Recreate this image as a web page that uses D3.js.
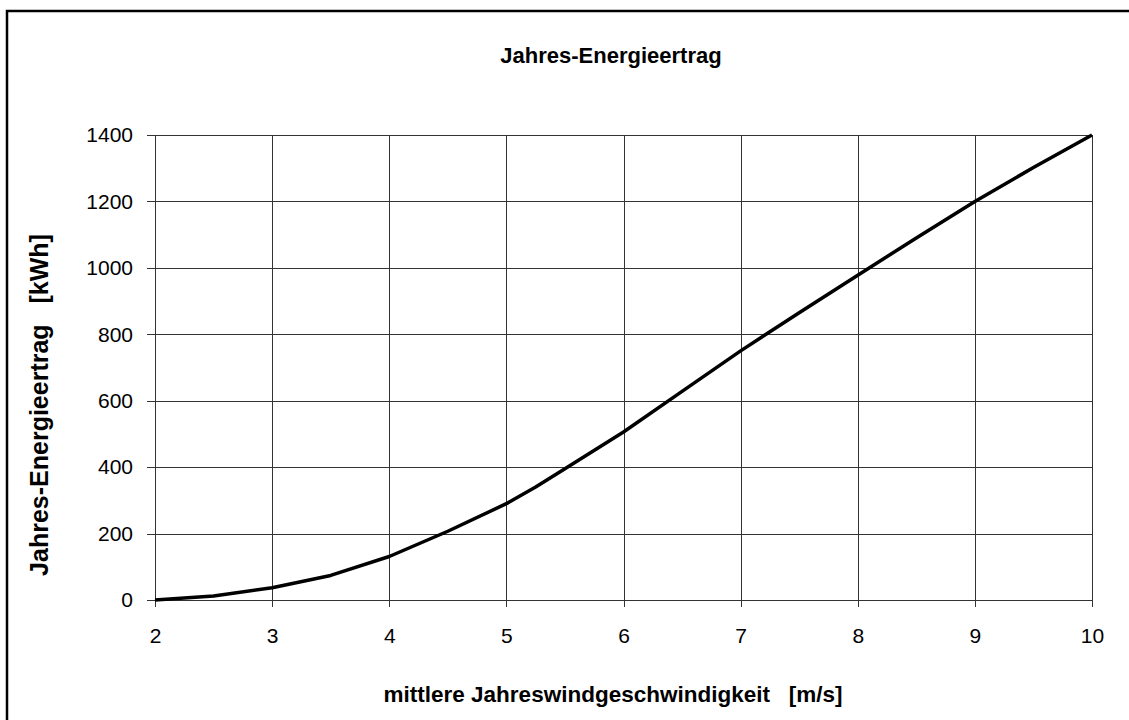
<!DOCTYPE html>
<html><head><meta charset="utf-8">
<script src="https://cdn.jsdelivr.net/npm/d3@7"></script>
<style>html,body{margin:0;padding:0;background:#fff;overflow:hidden} text{white-space:pre}</style>
</head><body>
<svg id="c" width="1129" height="720"></svg>
<script>
const windSpeed = [2, 2.5, 3, 3.5, 4, 4.5, 5, 5.25, 5.5, 6, 6.5, 7, 7.5, 8, 8.5, 9, 9.5, 10];
const energy    = [0, 12, 37, 74, 131, 207, 290, 340, 395, 506, 628, 750, 865, 978, 1090, 1200, 1302, 1400];
const xTicks = [2, 3, 4, 5, 6, 7, 8, 9, 10];
const yTicks = [0, 200, 400, 600, 800, 1000, 1200, 1400];
const titleText = "Jahres-Energieertrag";
const xTitle = "mittlere Jahreswindgeschwindigkeit   [m/s]";
const yTitle = "Jahres-Energieertrag   [kWh]";

const svg = d3.select("#c");
const font = "Liberation Sans, Arial, sans-serif";
const L = 155, R = 1092, T = 135, B = 600;
const x = d3.scaleLinear().domain([2, 10]).range([L, R]);
const y = d3.scaleLinear().domain([0, 1400]).range([B, T]);

svg.append("rect").attr("x", 7).attr("y", 11).attr("width", 1200).attr("height", 800)
  .attr("fill", "#fff").attr("stroke", "#000").attr("stroke-width", 2.5);

// grid
const gx = svg.append("g").attr("transform", `translate(0,${B})`)
  .call(d3.axisBottom(x).tickValues(xTicks).tickSize(-(B - T)).tickSizeOuter(0).tickFormat(""));
gx.selectAll("line").attr("stroke", "#333").attr("shape-rendering", "crispEdges");
gx.select(".domain").remove();
const gy = svg.append("g").attr("transform", `translate(${L},0)`)
  .call(d3.axisLeft(y).tickValues(yTicks).tickSize(-(R - L)).tickSizeOuter(0).tickFormat(""));
gy.selectAll("line").attr("stroke", "#333").attr("shape-rendering", "crispEdges");
gy.select(".domain").remove();

// axes
const ax = svg.append("g").attr("transform", `translate(0,${B})`)
  .call(d3.axisBottom(x).tickValues(xTicks).tickSize(7).tickSizeOuter(0).tickPadding(21).tickFormat(d3.format("d")));
ax.selectAll("line").attr("stroke", "#333").attr("shape-rendering", "crispEdges");
ax.select(".domain").attr("stroke", "#333").attr("shape-rendering", "crispEdges");
ax.selectAll("text").attr("font-family", font).attr("font-size", 21).attr("fill", "#000");

const ay = svg.append("g").attr("transform", `translate(${L},0)`)
  .call(d3.axisLeft(y).tickValues(yTicks).tickSize(8).tickSizeOuter(0).tickPadding(14).tickFormat(d3.format("d")));
ay.selectAll("line").attr("stroke", "#333").attr("shape-rendering", "crispEdges");
ay.select(".domain").attr("stroke", "#333").attr("shape-rendering", "crispEdges");
ay.selectAll("text").attr("font-family", font).attr("font-size", 21).attr("fill", "#000");

// line
const pts = windSpeed.map((v, i) => [v, energy[i]]);
svg.append("path").datum(pts)
  .attr("d", d3.line().x(d => x(d[0])).y(d => y(d[1])))
  .attr("fill", "none").attr("stroke", "#000").attr("stroke-width", 3.5)
  .attr("stroke-linejoin", "round");

// titles
svg.append("text").attr("x", 611).attr("y", 63).attr("text-anchor", "middle")
  .attr("font-family", font).attr("font-weight", "bold").attr("font-size", 22).text(titleText);
svg.append("text").attr("x", 613).attr("y", 702).attr("text-anchor", "middle")
  .attr("font-family", font).attr("font-weight", "bold").attr("font-size", 22.5).text(xTitle);
svg.append("text").attr("transform", `translate(48,405) rotate(-90)`).attr("text-anchor", "middle")
  .attr("font-family", font).attr("font-weight", "bold").attr("font-size", 25).text(yTitle);
</script>
</body></html>
